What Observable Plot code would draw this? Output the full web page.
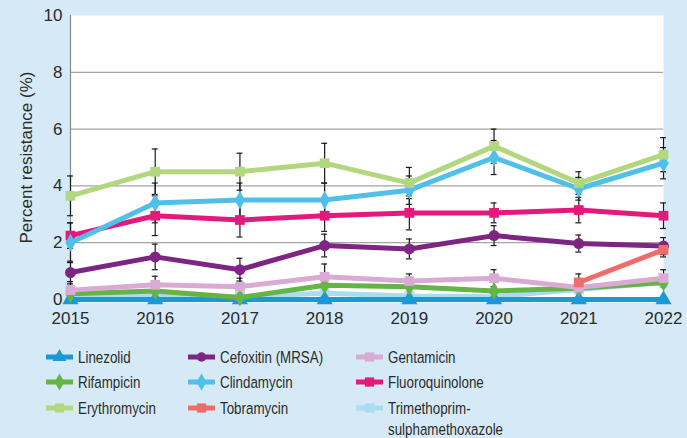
<!DOCTYPE html>
<html><head><meta charset="utf-8">
<script src="https://cdn.jsdelivr.net/npm/d3@7"></script>
<script src="https://cdn.jsdelivr.net/npm/@observablehq/plot@0.6"></script>
<style>
body{margin:0;background:#d5eaf6;}
#wrap{position:relative;width:687px;height:438px;background:#d5eaf6;overflow:hidden;font-family:"Liberation Sans",Arial,sans-serif;color:#2b2b2b;}
#chart{position:absolute;left:0;top:0;}
.lg{position:absolute;display:flex;align-items:flex-start;font-size:16.3px;line-height:21px;}
.lg svg{margin-right:5px;margin-top:1px;flex:none;}
.lg span{white-space:pre;display:inline-block;transform:scaleX(0.82);transform-origin:0 0;}
</style></head>
<body><div id="wrap"><div id="chart"></div></div>
<script>
const years = [2015, 2016, 2017, 2018, 2019, 2020, 2021, 2022];
const yTicks = [0, 2, 4, 6, 8, 10];
const yTitle = "Percent resistance (%)";
const names = ["Linezolid", "Rifampicin", "Erythromycin", "Cefoxitin (MRSA)", "Clindamycin", "Tobramycin", "Gentamicin", "Fluoroquinolone", "Trimethoprim-\nsulphamethoxazole"];

const linezolid       = [0, 0, 0, 0, 0, 0, 0, 0];
const rifampicin      = [0.2, 0.3, 0.07, 0.5, 0.45, 0.3, 0.4, 0.6];
const erythromycin    = [3.65, 4.5, 4.5, 4.8, 4.1, 5.4, 4.1, 5.1];
const cefoxitin       = [0.95, 1.5, 1.05, 1.9, 1.78, 2.25, 1.97, 1.88];
const clindamycin     = [2.0, 3.4, 3.5, 3.5, 3.85, 5.0, 3.9, 4.8];
const tobramycin      = [null, null, null, null, null, null, 0.6, 1.75];
const gentamicin      = [0.33, 0.52, 0.45, 0.8, 0.65, 0.75, 0.42, 0.75];
const fluoroquinolone = [2.25, 2.95, 2.8, 2.95, 3.05, 3.05, 3.15, 2.95];
const trimethoprim    = [0.12, 0.15, 0.1, 0.22, 0.12, 0.1, 0.35, 0.6];

// half-width of the error bars
const erythromycinErr    = [0.7, 0.8, 0.65, 0.7, 0.55, 0.6, 0.4, 0.6];
const clindamycinErr     = [0.7, 0.7, 0.6, 0.6, 0.5, 0.6, 0.4, 0.55];
const fluoroquinoloneErr = [0.45, 0.7, 0.6, 0.55, 0.6, 0.35, 0.45, 0.45];
const cefoxitinErr       = [0.4, 0.45, 0.4, 0.4, 0.35, 0.35, 0.3, 0.3];
const gentamicinErr      = [0.3, 0.3, 0.3, 0.45, 0.25, 0.3, 0.2, 0.3];
const tobramycinErr      = [null, null, null, null, null, null, 0.3, 0.25];

const colors = ["#1b98d5", "#67b446", "#b2d77e", "#7e2583", "#50bfe9", "#ef6c6a", "#d9abd4", "#e5187c", "#a9dcf1"];
const symbols = ["triangle", "diamond", "square", "circle", "diamond", "square", "square", "square", "square"];

const seriesDefs = [
  {name: names[8], vals: trimethoprim, err: null},
  {name: names[0], vals: linezolid, err: null},
  {name: names[1], vals: rifampicin, err: null},
  {name: names[6], vals: gentamicin, err: gentamicinErr},
  {name: names[3], vals: cefoxitin, err: cefoxitinErr},
  {name: names[7], vals: fluoroquinolone, err: fluoroquinoloneErr},
  {name: names[4], vals: clindamycin, err: clindamycinErr},
  {name: names[2], vals: erythromycin, err: erythromycinErr},
  {name: names[5], vals: tobramycin, err: tobramycinErr}
];

const colorOf = n => colors[names.indexOf(n)];
const symOf = n => symbols[names.indexOf(n)];

const errRows = [];
seriesDefs.forEach(s => {
  if (!s.err) return;
  years.forEach((y, i) => {
    if (s.vals[i] == null || s.err[i] == null) return;
    errRows.push({year: y, lo: s.vals[i] - s.err[i], hi: s.vals[i] + s.err[i]});
  });
});

const marks = [
  Plot.frame({fill: "white", stroke: null, insetBottom: -3}),
  Plot.ruleY([0, 2, 4, 6, 8], {stroke: "#a3a3a3", strokeWidth: 1.3}),
  Plot.ruleX([2015], {stroke: "#8a8a8a", strokeWidth: 1.2, y1: 0, y2: 10}),
  Plot.ruleX(errRows, {x: "year", y1: "lo", y2: "hi", stroke: "#1a1a1a", strokeWidth: 1.2}),
  Plot.ruleY(errRows, {y: "lo", x1: d => d.year - 0.035, x2: d => d.year + 0.035, stroke: "#1a1a1a", strokeWidth: 1.2}),
  Plot.ruleY(errRows, {y: "hi", x1: d => d.year - 0.035, x2: d => d.year + 0.035, stroke: "#1a1a1a", strokeWidth: 1.2})
];
seriesDefs.forEach(s => {
  const rows = years.map((y, i) => ({year: y, v: s.vals[i]})).filter(d => d.v != null);
  const c = colorOf(s.name);
  marks.push(Plot.line(rows, {x: "year", y: "v", stroke: c, strokeWidth: 5}));
  marks.push(Plot.dot(rows, {x: "year", y: "v", fill: c, symbol: symOf(s.name), r: s.name === names[0] ? 6 : 5.5}));
});
marks.push(Plot.text([yTitle], {frameAnchor: "left", textAnchor: "middle", rotate: -90, dx: -44, text: d => d, fontSize: 17, fill: "#2b2b2b"}));

const chart = Plot.plot({
  width: 687, height: 335,
  marginLeft: 70, marginRight: 24, marginTop: 15, marginBottom: 36,
  style: {background: "transparent", fontSize: "17px", color: "#2b2b2b", fontFamily: "'Liberation Sans',Arial,sans-serif"},
  x: {domain: [2015, 2022], ticks: years, tickFormat: d => String(d), tickSize: 0, tickPadding: 12, label: null},
  y: {domain: [0, 10], ticks: yTicks, tickSize: 0, tickPadding: 8, label: null},
  marks
});
document.getElementById("chart").appendChild(chart);

// legend
const legendOrder = [
  [0, 46, 347], [1, 46, 372], [2, 46, 398],
  [3, 188, 347], [4, 188, 372], [5, 188, 398],
  [6, 356, 347], [7, 356, 372], [8, 356, 398]
];
const wrap = document.getElementById("wrap");
legendOrder.forEach(([idx, left, top]) => {
  const c = colors[idx];
  const sym = d3.symbol(d3["symbol" + symbols[idx][0].toUpperCase() + symbols[idx].slice(1)], symbols[idx] === "circle" ? 70 : 85)();
  const div = document.createElement("div");
  div.className = "lg";
  div.style.left = left + "px";
  div.style.top = top + "px";
  div.innerHTML = `<svg width="27" height="18" viewBox="0 0 27 18"><line x1="0" x2="27" y1="9" y2="9" stroke="${c}" stroke-width="5"/><path d="${sym}" transform="translate(13.5,9)" fill="${c}"/></svg><span>${names[idx]}</span>`;
  wrap.appendChild(div);
});
</script></body></html>
